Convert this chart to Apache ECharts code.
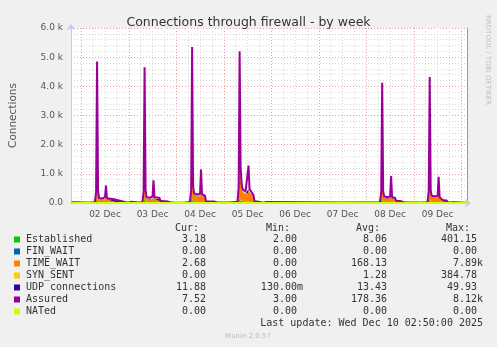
<!DOCTYPE html>
<html><head><meta charset="utf-8">
<script src="https://cdn.jsdelivr.net/npm/echarts@6/dist/echarts.min.js"></script>
<style>html,body{margin:0;padding:0;background:#f0f0f0}#c{width:497px;height:347px}</style>
</head><body><div id="c"></div><script>
// ---- data (time as "DD HH:MM" in December 2025) ----
const times = [
 '01 19:00','01 20:30','01 21:00','02 06:30',
 '02 07:00','02 07:30','02 08:00','02 08:30','02 09:00','02 10:30','02 12:00','02 12:30','02 13:00','02 16:30','02 17:00','02 20:30','02 21:00','02 23:30','03 00:00','03 01:00','03 01:30','03 06:30',
 '03 07:00','03 07:30','03 08:00','03 08:30','03 09:00','03 10:30','03 12:00','03 12:30','03 13:00','03 15:30','03 16:00','03 19:00','03 21:00','03 23:00','03 23:30','04 06:30',
 '04 07:00','04 07:30','04 08:00','04 08:30','04 09:00','04 10:30','04 12:00','04 12:30','04 13:00','04 14:30','04 15:00','04 19:00','04 20:30','04 21:00','05 06:30',
 '05 07:00','05 07:30','05 08:00','05 08:30','05 09:00','05 09:30','05 11:00','05 12:00','05 12:30','05 13:00','05 15:00','05 15:30','05 17:30','05 18:00','05 20:00','05 20:30','05 21:30','05 22:00','08 06:30',
 '08 07:00','08 07:30','08 08:00','08 08:30','08 09:00','08 10:30','08 12:00','08 12:30','08 13:00','08 14:30','08 15:00','08 17:00','08 17:30','08 19:00','08 19:30','09 06:30',
 '09 07:00','09 07:30','09 08:00','09 08:30','09 09:00','09 10:30','09 12:00','09 12:30','09 13:00','09 14:00','09 14:30','09 16:30','09 17:00','09 17:30','09 19:00','09 20:30','09 21:00','10 02:30'
];
const established = [
 3,3,3,3,
 10,40,130,50,30,25,30,40,25,20,10,8,3,3,3,3,3,3,
 10,40,120,50,30,30,30,40,30,25,10,8,5,3,3,3,
 10,45,140,60,40,35,35,50,35,30,10,8,5,3,3,
 10,50,140,70,50,45,40,40,55,45,35,10,8,3,3,3,3,3,3,
 10,40,120,50,30,30,30,45,30,25,10,8,5,5,3,3,
 10,40,125,50,35,30,30,45,30,25,10,8,5,3,3,3,3,3
];
const timeWait = [
 2,2,1,1,
 40,250,4450,280,90,80,100,160,90,70,30,20,1,1,5,5,1,1,
 40,260,4300,300,100,90,110,200,110,90,40,25,10,5,1,1,
 50,300,4950,400,220,180,200,300,200,170,30,20,10,1,1,
 60,400,4800,950,500,330,280,280,380,300,160,30,20,1,1,5,5,1,1,
 40,250,3800,300,130,120,130,200,120,100,40,25,10,8,1,1,
 40,260,3950,320,160,150,150,220,130,110,50,30,10,1,5,5,1,3
];
const synSent = [
 0,0,0,0,
 2,10,150,15,5,3,4,6,3,2,1,1,0,0,0,0,0,0,
 2,10,140,15,5,3,4,6,4,3,1,1,0,0,0,0,
 2,12,160,20,8,6,6,10,6,5,1,1,0,0,0,
 2,15,160,30,15,10,8,8,12,8,5,1,1,0,0,0,0,0,0,
 2,10,130,15,5,4,4,6,4,3,1,1,0,0,0,0,
 2,10,140,15,6,5,5,7,5,4,1,1,0,0,0,0,0,0
];
const udp = [
 12,12,12,12,
 13,15,18,16,15,14,14,15,14,14,13,13,12,12,12,12,12,12,
 13,15,18,16,15,14,14,15,14,14,13,13,12,12,12,12,
 13,15,18,16,15,15,15,16,15,14,13,13,12,12,12,
 13,15,18,17,16,15,15,15,16,15,14,13,13,12,12,12,12,12,12,
 13,15,18,16,15,14,14,15,14,14,13,13,12,12,12,12,
 13,15,18,16,15,14,14,15,14,14,13,13,12,12,12,12,12,12
];
const assured = [
 30,30,7,7,
 80,380,4850,420,170,150,200,600,160,130,65,60,7,7,40,40,7,7,
 80,400,4650,450,200,180,220,780,200,180,70,60,30,20,7,7,
 90,450,5350,600,330,290,320,1150,300,250,60,50,30,7,7,
 100,550,5200,1250,650,470,400,420,1280,480,270,60,40,7,7,35,35,7,7,
 80,380,4120,400,230,200,220,920,200,180,80,70,40,30,7,7,
 80,400,4320,430,250,230,240,900,200,180,100,90,40,7,30,30,7,8
];
const finWait = [['01 18:50',0],['10 02:50',0]];
const nated = [['01 18:50',0],['10 02:50',0]];

const yTicks = [0,1000,2000,3000,4000,5000,6000];
const dayLabels = ['02 Dec','03 Dec','04 Dec','05 Dec','06 Dec','07 Dec','08 Dec','09 Dec'];
const dayLabelTimes = ['02 12:00','03 12:00','04 12:00','05 12:00','06 12:00','07 12:00','08 12:00','09 12:00'];

const legendNames = ['Established','FIN_WAIT','TIME_WAIT','SYN_SENT','UDP connections','Assured','NATed'];
const legendColors = ['#00cc00','#0066b3','#ff8000','#ffcc00','#330099','#990099','#ccff00'];
const legendCur = ['3.18','0.00','2.68','0.00','11.88','7.52','0.00'];
const legendMin = ['2.00','0.00','0.00','0.00','130.00m','3.00','0.00'];
const legendAvg = ['8.06','0.00','168.13','1.28','13.43','178.36','0.00'];
const legendMax = ['401.15','0.00','7.89k','384.78','49.93','8.12k','0.00'];

// ---- helpers: x is hours since Dec 1 00:00 ----
function toH(s){const p=s.split(' ');const hm=p[1].split(':');return (Number(p[0])-1)*24+Number(hm[0])+Number(hm[1])/60;}
const X_MIN = toH('01 18:50'), X_MAX = toH('10 02:50');
const xs = times.map(toH);
// value first, time second (encode maps them), so stacking is applied on the y value
const pairs = arr => arr.map((v,i)=>[v, xs[i]]);
const midnights=[], sixHours=[];
for(let h=24; h<X_MAX; h+=24) midnights.push(h);
for(let h=24; h<X_MAX; h+=6) if(h%24!==0) sixHours.push(h);
const labelVals = dayLabelTimes.map(toH);

const FONT='DejaVu Sans', MONO='DejaVu Sans Mono';
const dotted=[1,2];
const ENC={x:1,y:0};

const chart = echarts.init(document.getElementById('c'), null, {renderer:'canvas'});

const areaSeries = (name, data, color) => ({
  name, type:'line', stack:'total', data:pairs(data), encode:ENC, symbol:'none', showSymbol:false,
  lineStyle:{width:0}, areaStyle:{color, opacity:1}, itemStyle:{color}, z:2
});

// legend graphics
const g = [];
const rowY0 = 239.5, rowDY = 12;
const hdr=(t,x)=>g.push({type:'text', x, y:228.5, style:{text:t, font:'10px '+MONO, fill:'#333', textAlign:'right', textVerticalAlign:'middle'}});
hdr('Cur:',199); hdr('Min:',290); hdr('Avg:',380); hdr('Max:',470);
const colRight=[206,297,387,477];
const cols=[legendCur,legendMin,legendAvg,legendMax];
legendNames.forEach((n,i)=>{
  const y=rowY0+i*rowDY;
  g.push({type:'rect', shape:{x:14,y:y-3,width:6,height:6}, style:{fill:legendColors[i]}});
  g.push({type:'text', x:26, y:y, style:{text:n, font:'10px '+MONO, fill:'#333', textVerticalAlign:'middle'}});
  cols.forEach((c,j)=>{
    const s=c[i]; const suf=/[a-z]$/i.test(s);
    g.push({type:'text', x:colRight[j]+(suf?6:0), y:y, style:{text:s, font:'10px '+MONO, fill:'#333', textAlign:'right', textVerticalAlign:'middle'}});
  });
});
g.push({type:'text', x:483, y:rowY0+7*rowDY, style:{text:'Last update: Wed Dec 10 02:50:00 2025', font:'10px '+MONO, fill:'#333', textAlign:'right', textVerticalAlign:'middle'}});
g.push({type:'text', x:248, y:336.5, style:{text:'Munin 2.0.57', font:'7px '+FONT, fill:'#bbb', textAlign:'center', textVerticalAlign:'middle'}});
g.push({type:'text', x:488, y:15, rotation:-Math.PI/2, style:{text:'RRDTOOL / TOBI OETIKER', font:'7px '+FONT, fill:'#c0c0c0', textAlign:'left', textVerticalAlign:'middle'}});

const vAxis = (extra) => Object.assign({type:'value', min:X_MIN, max:X_MAX, gridIndex:0, position:'bottom'}, extra);

chart.setOption({
  animation:false,
  backgroundColor:'#f0f0f0',
  title:{text:'Connections through firewall - by week', left:'center', top:11,
    textStyle:{fontSize:12.5, fontWeight:'normal', color:'#333', fontFamily:FONT}},
  grid:{left:67, right:30, top:28, bottom:144, show:true, backgroundColor:'#ffffff', borderWidth:0},
  xAxis:[
    vAxis({
      axisLine:{show:true, onZero:false, lineStyle:{color:'#c8c8f0'}, symbol:['none','arrow'], symbolSize:[7,6], symbolOffset:[0,4]},
      axisTick:{show:false}, splitLine:{show:false},
      axisLabel:{customValues:labelVals, formatter:v=>{const i=labelVals.indexOf(v);return i>=0?dayLabels[i]:'';}, color:'#555', fontSize:9, fontFamily:FONT, margin:7, hideOverlap:false}
    }),
    vAxis({
      axisLine:{show:false}, axisLabel:{show:false}, axisTick:{show:false, customValues:sixHours},
      splitLine:{show:true, lineStyle:{color:'#d8d8d8', type:dotted}}
    }),
    vAxis({
      axisLine:{show:false}, axisLabel:{show:false}, axisTick:{show:false, customValues:midnights},
      splitLine:{show:true, lineStyle:{color:'#eba0a0', type:dotted}}
    })
  ],
  yAxis:[
    {type:'value', min:0, max:6000, interval:1000, position:'left',
      axisLine:{show:true, lineStyle:{color:'#c8c8f0'}, symbol:['none','arrow'], symbolSize:[7,6], symbolOffset:[0,4]},
      axisTick:{show:false},
      axisLabel:{customValues:yTicks, formatter:v=>v===0?'0.0':(v/1000).toFixed(1)+' k', color:'#555', fontSize:9, fontFamily:FONT, margin:8},
      splitLine:{show:true, lineStyle:{color:'#eba0a0', type:dotted}},
      minorTick:{show:false, splitNumber:5},
      minorSplitLine:{show:true, lineStyle:{color:'#d8d8d8', type:dotted}},
      name:'Connections', nameLocation:'middle', nameGap:52,
      nameTextStyle:{fontSize:10.5, color:'#555', fontFamily:FONT}
    },
    {type:'value', min:0, max:6000, interval:1000, position:'right',
      axisLine:{show:true, lineStyle:{color:'#999'}}, axisLabel:{show:false}, axisTick:{show:false}, splitLine:{show:false}}
  ],
  series:[
    areaSeries('Established', established, '#00cc00'),
    {name:'FIN_WAIT', type:'line', data:finWait.map(p=>[p[1],toH(p[0])]), encode:ENC, symbol:'none', lineStyle:{width:0}, areaStyle:{color:'#0066b3',opacity:1}, z:2},
    areaSeries('TIME_WAIT', timeWait, '#ff8000'),
    areaSeries('SYN_SENT', synSent, '#ffcc00'),
    areaSeries('UDP connections', udp, '#330099'),
    {name:'Assured', type:'line', data:pairs(assured), encode:ENC, symbol:'none', lineStyle:{width:2, color:'#990099'}, itemStyle:{color:'#990099'}, z:3},
    {name:'NATed', type:'line', data:nated.map(p=>[p[1],toH(p[0])]), encode:ENC, symbol:'none', lineStyle:{width:2, color:'#ccff00'}, z:4}
  ],
  graphic:g
});
</script></body></html>
